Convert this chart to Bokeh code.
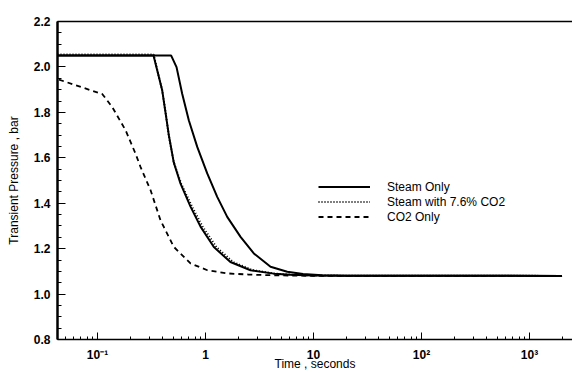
from bokeh.plotting import figure
from bokeh.models import (FixedTicker, SingleIntervalTicker, PrintfTickFormatter,
                          Legend, LegendItem, LogAxis)
from bokeh.embed import file_html
from bokeh.resources import INLINE

# ---- data ----
steam_only_t = [0.0426, 0.481, 0.539, 0.608, 0.700, 0.838, 1.037, 1.283, 1.588, 2.11, 2.80, 4.0, 5.71, 8.0, 12, 20, 2000]
steam_only_p = [2.05, 2.05, 1.999, 1.882, 1.765, 1.648, 1.531, 1.428, 1.340, 1.252, 1.179, 1.120, 1.098, 1.088, 1.083, 1.081, 1.08]

steam_b_t = [0.0426, 0.33, 0.397, 0.426, 0.457, 0.508, 0.587, 0.726, 0.899, 1.194, 1.70, 2.61, 4.29, 6.12, 10, 20, 2000]
steam_b_p = [2.05, 2.05, 1.897, 1.80, 1.70, 1.58, 1.486, 1.385, 1.297, 1.207, 1.141, 1.105, 1.090, 1.085, 1.082, 1.081, 1.08]

steam_co2_t = [0.0426, 0.33, 0.397, 0.426, 0.457, 0.508, 0.595, 0.75, 0.94, 1.26, 1.80, 2.75, 4.4, 6.3, 10, 20, 2000]
steam_co2_p = [2.055, 2.055, 1.897, 1.80, 1.70, 1.58, 1.486, 1.385, 1.297, 1.207, 1.141, 1.105, 1.090, 1.085, 1.082, 1.081, 1.08]

co2_only_t = [0.044, 0.111, 0.137, 0.182, 0.225, 0.25, 0.31, 0.383, 0.508, 0.726, 1.04, 1.59, 2.5, 4.0, 10, 2000]
co2_only_p = [1.944, 1.88, 1.823, 1.721, 1.618, 1.56, 1.457, 1.325, 1.208, 1.135, 1.105, 1.091, 1.086, 1.083, 1.08, 1.08]

x_ticks = [0.1, 1, 10, 100, 1000]
x_tick_labels = ["10\u207b\u00b9", "1", "10", "10\u00b2", "10\u00b3"]
legend_labels = ["Steam Only", "Steam with 7.6% CO2", "CO2 Only"]
x_title = "Time , seconds"
y_title = "Transient Pressure , bar"

FONT = "Liberation Sans"

p = figure(width=572, height=373, x_axis_type="log",
           x_range=(0.0426, 2500), y_range=(0.8, 2.2),
           output_backend="svg", toolbar_location=None,
           min_border_left=57, min_border_right=0,
           min_border_top=21, min_border_bottom=34)
p.grid.visible = False
p.outline_line_color = None
p.background_fill_color = "white"

r_steam = p.line(steam_only_t, steam_only_p, line_color="black", line_width=2)
r_b = p.line(steam_b_t, steam_b_p, line_color="black", line_width=2)
r_co2mix = p.line(steam_co2_t, steam_co2_p, line_color="black", line_width=2,
                  line_dash="1 2")
r_co2 = p.line(co2_only_t, co2_only_p, line_color="black", line_width=1.8,
               line_dash="5 4")

# x axis
xa = p.xaxis[0]
minor = [m * d for d in [0.01, 0.1, 1, 10, 100, 1000] for m in range(2, 10)]
xa.ticker = FixedTicker(ticks=x_ticks, minor_ticks=minor)
xa.major_label_overrides = dict(zip(x_ticks, x_tick_labels))
xa.major_tick_in = 7
xa.major_tick_out = 0
xa.minor_tick_in = 3
xa.minor_tick_out = 0
xa.axis_line_width = 1.5
xa.axis_line_color = "black"
xa.major_tick_line_color = "black"
xa.minor_tick_line_color = "black"
xa.major_label_text_color = "black"
xa.major_label_text_font = FONT
xa.major_label_text_font_size = "12px"
xa.major_label_text_font_style = "bold"
xa.major_label_standoff = 8
xa.axis_label = x_title
xa.axis_label_text_color = "black"
xa.axis_label_text_font = FONT
xa.axis_label_text_font_size = "12px"
xa.axis_label_text_font_style = "normal"
xa.axis_label_standoff = -8

# y axis
ya = p.yaxis[0]
ya.ticker = SingleIntervalTicker(interval=0.2, num_minor_ticks=4)
ya.formatter = PrintfTickFormatter(format="%.1f")
ya.major_tick_in = 8
ya.major_tick_out = 0
ya.minor_tick_in = 4
ya.minor_tick_out = 0
ya.axis_line_width = 2.5
ya.axis_line_color = "black"
ya.major_tick_line_color = "black"
ya.minor_tick_line_color = "black"
ya.major_label_text_color = "black"
ya.major_label_text_font = FONT
ya.major_label_text_font_size = "12px"
ya.major_label_text_font_style = "bold"
ya.major_label_standoff = 7
ya.axis_label = y_title
ya.axis_label_text_color = "black"
ya.axis_label_text_font = FONT
ya.axis_label_text_font_size = "12px"
ya.axis_label_text_font_style = "normal"
ya.axis_label_standoff = 10

# top border line
top = LogAxis(ticker=FixedTicker(ticks=[]), axis_line_width=1.5,
              axis_line_color="black",
              major_tick_line_color=None, minor_tick_line_color=None,
              major_label_text_font_size="0px")
p.add_layout(top, "above")

legend = Legend(items=[LegendItem(label=legend_labels[0], renderers=[r_steam]),
                       LegendItem(label=legend_labels[1], renderers=[r_co2mix]),
                       LegendItem(label=legend_labels[2], renderers=[r_co2])],
                location=(261, 115), glyph_width=52, glyph_height=15,
                label_height=15, label_standoff=17, padding=0, margin=0,
                spacing=0, border_line_color=None, background_fill_alpha=0,
                label_text_font=FONT, label_text_font_size="12px",
                label_text_color="black")
p.add_layout(legend)

open("out.html", "w").write(file_html(p, INLINE))
